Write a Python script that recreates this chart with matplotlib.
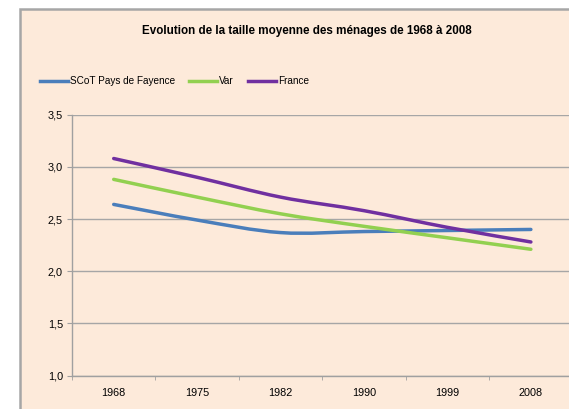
import matplotlib
matplotlib.use("Agg")
import matplotlib.pyplot as plt
from matplotlib.path import Path
from matplotlib.patches import PathPatch, Rectangle
from matplotlib.lines import Line2D

years = ["1968", "1975", "1982", "1990", "1999", "2008"]
scot = [2.64, 2.49, 2.37, 2.38, 2.39, 2.40]
var = [2.88, 2.71, 2.55, 2.43, 2.32, 2.21]
france = [3.08, 2.90, 2.71, 2.58, 2.42, 2.28]
series_names = ["SCoT Pays de Fayence", "Var", "France"]
y_ticks = [1.0, 1.5, 2.0, 2.5, 3.0, 3.5]
y_labels = ["1,0", "1,5", "2,0", "2,5", "3,0", "3,5"]
title = "Evolution de la taille moyenne des ménages de 1968 à 2008"

colors = ["#4A7EBB", "#92D050", "#7030A0"]
FONT = ["Liberation Sans Narrow", "Liberation Sans", "DejaVu Sans"]
plt.rcParams["font.family"] = FONT

W, H = 569, 409
fig = plt.figure(figsize=(W / 100, H / 100), dpi=100)
fig.patch.set_facecolor("white")

bg = Rectangle((20 / W, -0.1), 1.2, (H - 9) / H + 0.1, transform=fig.transFigure,
               facecolor="#FDEADA", edgecolor="#A6A6A6", linewidth=1.8, zorder=-5)
fig.patches.append(bg)

left, right = 72 / W, 572.6 / W
top, bottom = 1 - 114.7 / H, 1 - 375.5 / H
ax = fig.add_axes([left, bottom, right - left, top - bottom])
ax.set_facecolor("none")
ax.set_zorder(2)


def smooth_path(xs, ys):
    pts = list(zip(xs, ys))
    n = len(pts)
    verts = [pts[0]]
    codes = [Path.MOVETO]
    for i in range(n - 1):
        p0 = pts[i - 1] if i > 0 else pts[i]
        p1 = pts[i]
        p2 = pts[i + 1]
        p3 = pts[i + 2] if i + 2 < n else pts[i + 1]
        c1 = (p1[0] + (p2[0] - p0[0]) / 6, p1[1] + (p2[1] - p0[1]) / 6)
        c2 = (p2[0] - (p3[0] - p1[0]) / 6, p2[1] - (p3[1] - p1[1]) / 6)
        verts += [c1, c2, p2]
        codes += [Path.CURVE4] * 3
    return Path(verts, codes)


xs = list(range(len(years)))
for vals, c in zip([scot, var, france], colors):
    ax.add_patch(PathPatch(smooth_path(xs, vals), facecolor="none", edgecolor=c,
                           linewidth=2.5, capstyle="round", zorder=3))

ax.set_xlim(-0.5, len(years) - 0.5)
ax.set_ylim(1.0, 3.5)
ax.set_yticks(y_ticks)
ax.set_yticklabels(y_labels, fontsize=7.8)
ax.set_xticks(xs)
ax.set_xticklabels(years, fontsize=7.8)
ax.set_xticks([x - 0.5 for x in range(len(years) + 1)], minor=True)
ax.tick_params(axis="x", which="major", length=0, pad=9)
ax.tick_params(axis="x", which="minor", length=3, direction="out", color="#A0A0A0")
ax.tick_params(axis="y", length=3.5, direction="out", color="#A0A0A0", pad=3)
ax.grid(axis="y", color="#A6A6A6", linewidth=1.0, zorder=1)
ax.set_axisbelow(True)
for s in ["top", "right"]:
    ax.spines[s].set_visible(False)
for s in ["left", "bottom"]:
    ax.spines[s].set_color("#A0A0A0")
    ax.spines[s].set_linewidth(1.0)

fig.text(307 / W, 1 - 31 / H, title, ha="center", va="center", fontsize=8.4,
         fontweight="bold")

handles = [Line2D([], [], color=c, linewidth=2.5) for c in colors]
fig.legend(handles, series_names, loc="center left", bbox_to_anchor=(40 / W, 1 - 81 / H),
           ncol=3, frameon=False, fontsize=7.2, handlelength=2.8, handletextpad=0.2,
           columnspacing=1.4, borderaxespad=0, borderpad=0)

fig.savefig("out.png", dpi=100)
